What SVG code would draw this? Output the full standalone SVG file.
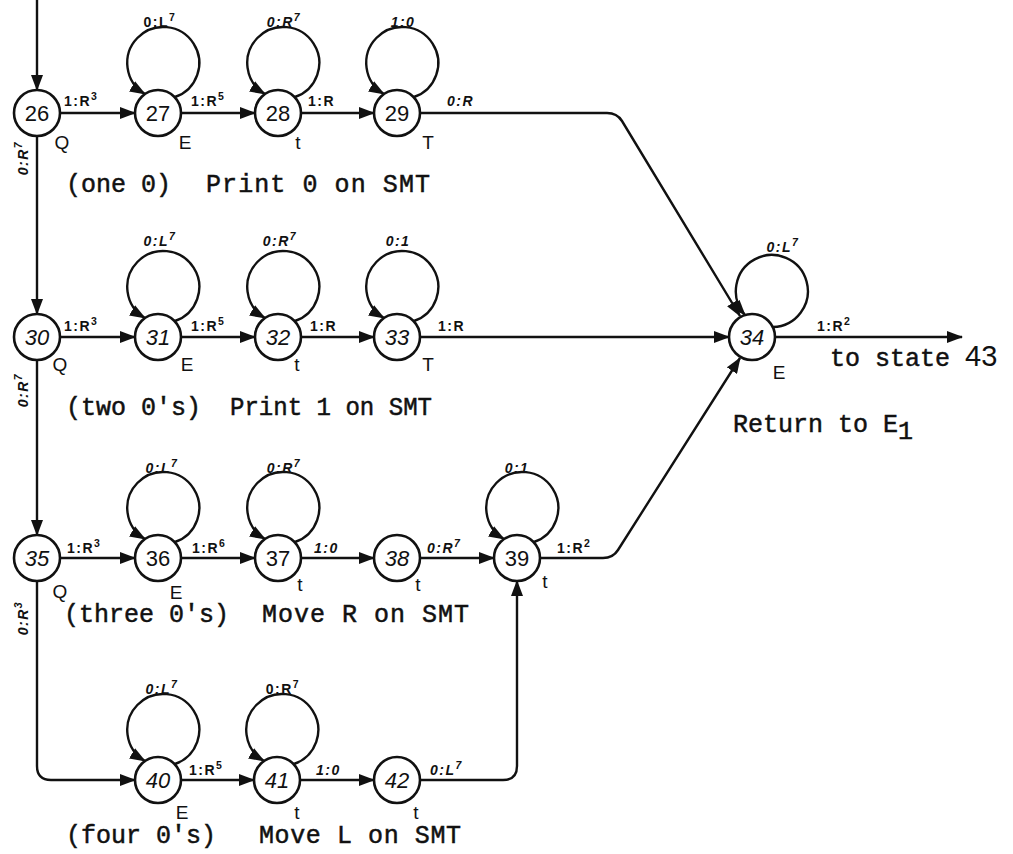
<svg xmlns="http://www.w3.org/2000/svg" width="1013" height="854" viewBox="0 0 1013 854">
<style>
.bg{fill:#ffffff}
.nd circle{fill:#ffffff;stroke:#111;stroke-width:2.6}
.num{font-family:"Liberation Sans",Arial,sans-serif;font-size:22px;text-anchor:middle;fill:#111}
.it{font-style:italic}
.st{font-family:"Liberation Sans",Arial,sans-serif;font-size:19px;text-anchor:middle;fill:#111}
.lb{font-family:"Liberation Sans",Arial,sans-serif;font-size:14px;font-weight:bold;fill:#111;letter-spacing:1.5px}
.lbm{font-family:"Liberation Sans",Arial,sans-serif;font-size:14px;font-weight:bold;fill:#111;letter-spacing:1.5px;text-anchor:middle}
.sup{font-size:10.5px}
.tw{font-family:"Liberation Mono","Courier New",monospace;font-size:25px;fill:#111;stroke:#111;stroke-width:0.5}
.cn path{fill:none;stroke:#111;stroke-width:2.4}
</style>
<defs>
<marker id="ah" markerWidth="16" markerHeight="12" refX="15" refY="6" orient="auto" markerUnits="userSpaceOnUse">
<path d="M0,0 L16,6 L0,12 z" fill="#111"/>
</marker>
</defs>
<rect class="bg" x="0" y="0" width="1013" height="854"/>

<g id="connectors" class="cn">
<path d="M37,0 V90" marker-end="url(#ah)"/>
<!-- row 1 -->
<path d="M60,113 H135" marker-end="url(#ah)"/>
<path d="M181,113 H255" marker-end="url(#ah)"/>
<path d="M301,113 H374" marker-end="url(#ah)"/>
<path d="M420,113 H607 Q617,113 622,121 L740,316" marker-end="url(#ah)"/>
<path d="M175,97 A36,36 0 1 0 145,94" marker-end="url(#ah)"/>
<path d="M295,97 A36,36 0 1 0 265,94" marker-end="url(#ah)"/>
<path d="M414,97 A36,36 0 1 0 384,94" marker-end="url(#ah)"/>
<!-- row 2 -->
<path d="M37,136 V314" marker-end="url(#ah)"/>
<path d="M60,337 H135" marker-end="url(#ah)"/>
<path d="M181,337 H255" marker-end="url(#ah)"/>
<path d="M301,337 H374" marker-end="url(#ah)"/>
<path d="M420,337 H729" marker-end="url(#ah)"/>
<path d="M175,321 A36,36 0 1 0 145,318" marker-end="url(#ah)"/>
<path d="M295,321 A36,36 0 1 0 265,318" marker-end="url(#ah)"/>
<path d="M414,321 A36,36 0 1 0 384,318" marker-end="url(#ah)"/>
<!-- 34 -->
<path d="M773,327 A36,36 0 1 0 745,315" marker-end="url(#ah)"/>
<path d="M775,337 H962" marker-end="url(#ah)"/>
<!-- row 3 -->
<path d="M37,360 V535" marker-end="url(#ah)"/>
<path d="M60,558 H135" marker-end="url(#ah)"/>
<path d="M181,558 H255" marker-end="url(#ah)"/>
<path d="M301,558 H374" marker-end="url(#ah)"/>
<path d="M420,558 H494" marker-end="url(#ah)"/>
<path d="M540,558 H603 Q613,558 618,550 L740,358" marker-end="url(#ah)"/>
<path d="M175,542 A36,36 0 1 0 145,539" marker-end="url(#ah)"/>
<path d="M295,542 A36,36 0 1 0 265,539" marker-end="url(#ah)"/>
<path d="M534,542 A36,36 0 1 0 504,539" marker-end="url(#ah)"/>
<!-- row 4 -->
<path d="M37,581 V766 Q37,780 51,780 H135" marker-end="url(#ah)"/>
<path d="M181,780 H254" marker-end="url(#ah)"/>
<path d="M300,780 H374" marker-end="url(#ah)"/>
<path d="M420,780 H503 Q517,780 517,766 V581" marker-end="url(#ah)"/>
<path d="M175,764 A36,36 0 1 0 145,761" marker-end="url(#ah)"/>
<path d="M294,764 A36,36 0 1 0 264,761" marker-end="url(#ah)"/>
</g>

<g id="edge-labels">
<text class="lb" x="64" y="106">1:R<tspan class="sup" dy="-6">3</tspan></text>
<text class="lb" x="191" y="106">1:R<tspan class="sup" dy="-6">5</tspan></text>
<text class="lb" x="308" y="106">1:R</text>
<text class="lb it" x="447" y="106">0:R</text>
<text class="lbm" x="160" y="27">0:L<tspan class="sup" dy="-6">7</tspan></text>
<text class="lbm it" x="284" y="27">0:R<tspan class="sup" dy="-6">7</tspan></text>
<text class="lbm it" x="403" y="27">1:0</text>

<text class="lb" x="64" y="331">1:R<tspan class="sup" dy="-6">3</tspan></text>
<text class="lb" x="191" y="331">1:R<tspan class="sup" dy="-6">5</tspan></text>
<text class="lb" x="310" y="331">1:R</text>
<text class="lb" x="438" y="331">1:R</text>
<text class="lbm it" x="160" y="246">0:L<tspan class="sup" dy="-6">7</tspan></text>
<text class="lbm it" x="280" y="246">0:R<tspan class="sup" dy="-6">7</tspan></text>
<text class="lbm it" x="398" y="246">0:1</text>

<text class="lbm it" x="783" y="252">0:L<tspan class="sup" dy="-6">7</tspan></text>
<text class="lb" x="817" y="331">1:R<tspan class="sup" dy="-6">2</tspan></text>

<text class="lb" x="67" y="553">1:R<tspan class="sup" dy="-6">3</tspan></text>
<text class="lb" x="192" y="553">1:R<tspan class="sup" dy="-6">6</tspan></text>
<text class="lb it" x="314" y="553">1:0</text>
<text class="lb it" x="427" y="553">0:R<tspan class="sup" dy="-6">7</tspan></text>
<text class="lb" x="557" y="553">1:R<tspan class="sup" dy="-6">2</tspan></text>
<text class="lbm it" x="162" y="473">0:L<tspan class="sup" dy="-6">7</tspan></text>
<text class="lbm it" x="284" y="473">0:R<tspan class="sup" dy="-6">7</tspan></text>
<text class="lbm it" x="517" y="473">0:1</text>

<text class="lbm it" x="162" y="694">0:L<tspan class="sup" dy="-6">7</tspan></text>
<text class="lbm" x="283" y="694">0:R<tspan class="sup" dy="-6">7</tspan></text>
<text class="lb" x="189" y="775">1:R<tspan class="sup" dy="-6">5</tspan></text>
<text class="lb it" x="316" y="775">1:0</text>
<text class="lb it" x="430" y="775">0:L<tspan class="sup" dy="-6">7</tspan></text>

<text class="lbm it" transform="translate(28,158) rotate(-90)">0:R<tspan class="sup" dy="-6">7</tspan></text>
<text class="lbm it" transform="translate(28,390) rotate(-90)">0:R<tspan class="sup" dy="-6">7</tspan></text>
<text class="lbm it" transform="translate(28,618) rotate(-90)">0:R<tspan class="sup" dy="-6">3</tspan></text>
</g>

<g id="n26" class="nd"><circle cx="37" cy="113" r="23"/><text class="num" x="37" y="121">26</text><text class="st" x="62" y="149">Q</text></g>
<g id="n27" class="nd"><circle cx="158" cy="113" r="23"/><text class="num" x="158" y="121">27</text><text class="st" x="185" y="149">E</text></g>
<g id="n28" class="nd"><circle cx="278" cy="113" r="23"/><text class="num" x="278" y="121">28</text><text class="st" x="298" y="149">t</text></g>
<g id="n29" class="nd"><circle cx="397" cy="113" r="23"/><text class="num" x="397" y="121">29</text><text class="st" x="428" y="149">T</text></g>

<g id="n30" class="nd"><circle cx="37" cy="337" r="23"/><text class="num it" x="37" y="345">30</text><text class="st" x="60" y="371">Q</text></g>
<g id="n31" class="nd"><circle cx="158" cy="337" r="23"/><text class="num it" x="158" y="345">31</text><text class="st" x="187" y="371">E</text></g>
<g id="n32" class="nd"><circle cx="278" cy="337" r="23"/><text class="num it" x="278" y="345">32</text><text class="st" x="297" y="371">t</text></g>
<g id="n33" class="nd"><circle cx="397" cy="337" r="23"/><text class="num it" x="397" y="345">33</text><text class="st" x="428" y="371">T</text></g>

<g id="n34" class="nd"><circle cx="752" cy="337" r="23"/><text class="num it" x="752" y="345">34</text><text class="st" x="779" y="379">E</text></g>

<g id="n35" class="nd"><circle cx="37" cy="558" r="23"/><text class="num it" x="37" y="566">35</text><text class="st" x="60" y="598">Q</text></g>
<g id="n36" class="nd"><circle cx="158" cy="558" r="23"/><text class="num" x="158" y="566">36</text><text class="st" x="176" y="599">E</text></g>
<g id="n37" class="nd"><circle cx="278" cy="558" r="23"/><text class="num" x="278" y="566">37</text><text class="st" x="300" y="591">t</text></g>
<g id="n38" class="nd"><circle cx="397" cy="558" r="23"/><text class="num it" x="397" y="566">38</text><text class="st" x="418" y="591">t</text></g>
<g id="n39" class="nd"><circle cx="517" cy="558" r="23"/><text class="num" x="517" y="566">39</text><text class="st" x="545" y="588">t</text></g>

<g id="n40" class="nd"><circle cx="158" cy="780" r="23"/><text class="num it" x="158" y="788">40</text><text class="st" x="182" y="819">E</text></g>
<g id="n41" class="nd"><circle cx="277" cy="780" r="23"/><text class="num it" x="277" y="788">41</text><text class="st" x="297" y="819">t</text></g>
<g id="n42" class="nd"><circle cx="397" cy="780" r="23"/><text class="num it" x="397" y="788">42</text><text class="st" x="416" y="819">t</text></g>

<g id="captions">
<text class="tw" x="66" y="192">(one 0)</text>
<text class="tw" x="206" y="192" textLength="224" lengthAdjust="spacing">Print 0 on SMT</text>
<text class="tw" x="66" y="415">(two 0's)</text>
<text class="tw" x="230" y="415" textLength="202" lengthAdjust="spacingAndGlyphs">Print 1 on SMT</text>
<text class="tw" x="64" y="622">(three 0's)</text>
<text class="tw" x="262" y="622" textLength="207" lengthAdjust="spacing">Move R on SMT</text>
<text class="tw" x="66" y="843">(four 0's)</text>
<text class="tw" x="259" y="843" textLength="202" lengthAdjust="spacing">Move L on SMT</text>
<text class="tw" x="830" y="366">to state <tspan font-family="Liberation Sans, Arial, sans-serif" font-size="29" stroke-width="0">43</tspan></text>
<text class="tw" x="733" y="432">Return to E<tspan dy="7">1</tspan></text>
</g>
</svg>
